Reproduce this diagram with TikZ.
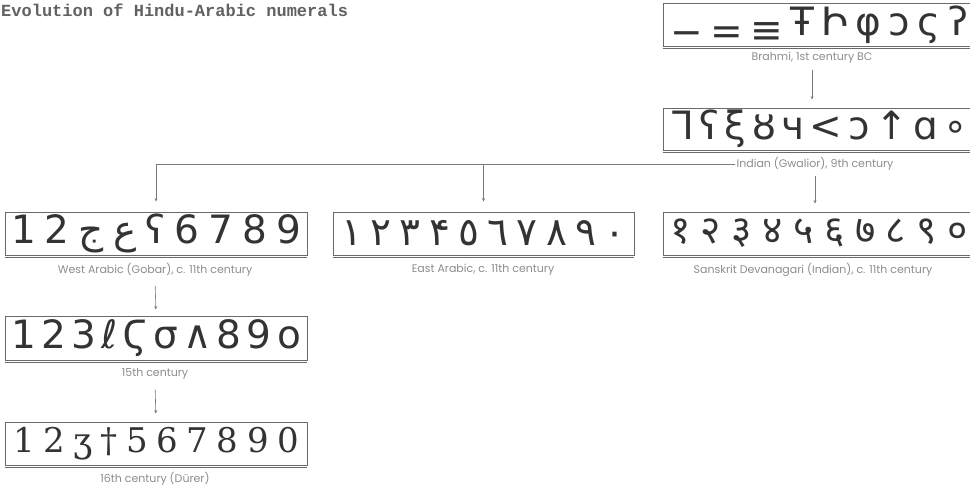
\documentclass[tikz,border=0pt]{standalone}
\usepackage{fontspec}
\usetikzlibrary{arrows.meta}
\setmainfont{DejaVu Sans}
\newfontfamily\glyphfont{DejaVu Sans}
\newfontfamily\glyphserif{DejaVu Serif}
\newfontfamily\devfont[Script=Devanagari]{Noto Sans}
\newfontfamily\arabicfont[Script=Arabic]{DejaVu Sans}
\newfontfamily\labelfont{Poppins}
\newfontfamily\titlefont{Liberation Mono}
\definecolor{ink}{HTML}{333333}
\definecolor{framec}{HTML}{6A6A6A}
\definecolor{labc}{HTML}{8C8C8C}
\definecolor{connc}{HTML}{7A7A7A}
\tikzset{
  numbox/.style={draw=framec, line width=0.8pt, inner sep=0pt, text=ink,
    font=\glyphfont\fontsize{39}{39}\selectfont},
  lbl/.style={font=\labelfont\fontsize{11}{12}\selectfont, text=labc, inner sep=1pt},
  link/.style={draw=connc, line width=0.6pt, -{Stealth[length=3.5pt,width=3pt]}},
  underline/.style={draw=framec, line width=1pt},
}
\begin{document}
\begin{tikzpicture}[x=1pt,y=-1pt]
\useasboundingbox (0,0) rectangle (970,487);
\clip (0,0) rectangle (970,487);
% title
\node[anchor=west, inner sep=0pt, text=black!62, font=\titlefont\bfseries\fontsize{17}{17}\selectfont] (title) at (1,10) {Evolution of Hindu-Arabic numerals};

% Brahmi
\node[numbox, minimum width=312pt, minimum height=43pt] (br) at (819,24.5)
  {\hbox to 298pt{\smash{\lower10pt\hbox{−}}\hfil\smash{\lower9pt\hbox{=}}\hfil\smash{\lower8pt\hbox{≡}}\hfil Ŧ\hfil Ի\hfil φ\hfil ↄ\hfil ς\hfil ʔ}};
\draw[underline] ([yshift=-2.5pt]br.south west) -- ([yshift=-2.5pt]br.south east);
\node[lbl] (brl) at (812,58) {Brahmi, 1st century BC};

% Gwalior
\node[numbox, minimum width=312pt, minimum height=42pt] (gw) at (819,129)
  {\hbox to 298pt{ᒣ\hfil ʕ\hfil ξ\hfil ȣ\hfil ч\hfil <\hfil ↄ\hfil ↑\hfil ɑ\hfil ∘}};
\draw[underline] ([yshift=-2.5pt]gw.south west) -- ([yshift=-2.5pt]gw.south east);
\node[lbl] (gwl) at (815,164) {Indian (Gwalior), 9th century};

% West Arabic
\node[numbox, minimum width=302pt, minimum height=43pt] (wa) at (156,233.5)
  {\hbox to 290pt{1\hfil 2\hfil {\arabicfont ج}\hfil {\arabicfont ع}\hfil ʕ\hfil 6\hfil 7\hfil 8\hfil 9}};
\draw[underline] ([yshift=-2.5pt]wa.south west) -- ([yshift=-2.5pt]wa.south east);
\node[lbl] (wal) at (155,270) {West Arabic (Gobar), c. 11th century};

% East Arabic
\node[numbox, minimum width=301pt, minimum height=43pt] (ea) at (483.5,233.5)
  {\arabicfont\hbox to 284pt{١\hfil ٢\hfil ٣\hfil ۴\hfil ٥\hfil ٦\hfil ٧\hfil ٨\hfil ٩\hfil ٠}};
\draw[underline] ([yshift=-2.5pt]ea.south west) -- ([yshift=-2.5pt]ea.south east);
\node[lbl] (eal) at (483,270) {East Arabic, c. 11th century};

% Devanagari
\node[numbox, minimum width=312pt, minimum height=43pt] (dv) at (819,233.5)
  {\devfont\hbox to 298pt{१\hfil २\hfil ३\hfil ४\hfil ५\hfil ६\hfil ७\hfil ८\hfil ९\hfil ०}};
\draw[underline] ([yshift=-2.5pt]dv.south west) -- ([yshift=-2.5pt]dv.south east);
\node[lbl] (dvl) at (813,270) {Sanskrit Devanagari (Indian), c. 11th century};

% 15th century
\node[numbox, minimum width=302pt, minimum height=44pt] (c15) at (156,338)
  {\hbox to 290pt{1\hfil 2\hfil 3\hfil ℓ\hfil Ϛ\hfil σ\hfil ∧\hfil 8\hfil 9\hfil o}};
\draw[underline] ([yshift=-2.5pt]c15.south west) -- ([yshift=-2.5pt]c15.south east);
\node[lbl] (c15l) at (155,374) {15th century};

% 16th century
\node[numbox, minimum width=302pt, minimum height=43pt, font=\glyphserif\fontsize{34}{34}\selectfont] (c16) at (156,443.5)
  {\hbox to 286pt{1\hfil 2\hfil ʒ\hfil †\hfil 5\hfil 6\hfil 7\hfil 8\hfil 9\hfil 0}};
\draw[underline] ([yshift=-2.5pt]c16.south west) -- ([yshift=-2.5pt]c16.south east);
\node[lbl] (c16l) at (155,479) {16th century (Dürer)};

% connectors
\draw[link, shorten <=5pt, shorten >=8pt] (brl.south) -- (brl.south |- gw.north);
\draw[link, shorten >=10pt] (gwl.west) -| (wa.north);
\draw[link, shorten >=10pt] (ea.north |- gwl.west) -- (ea.north);
\draw[link, shorten <=4pt, shorten >=8pt] (gwl.south) -- (gwl.south |- dv.north);
\draw[link, shorten <=8pt, shorten >=6pt] (wal.south) -- (c15.north);
\draw[link, shorten <=9pt, shorten >=8pt] (c15l.south) -- (c16.north);
\end{tikzpicture}
\end{document}
